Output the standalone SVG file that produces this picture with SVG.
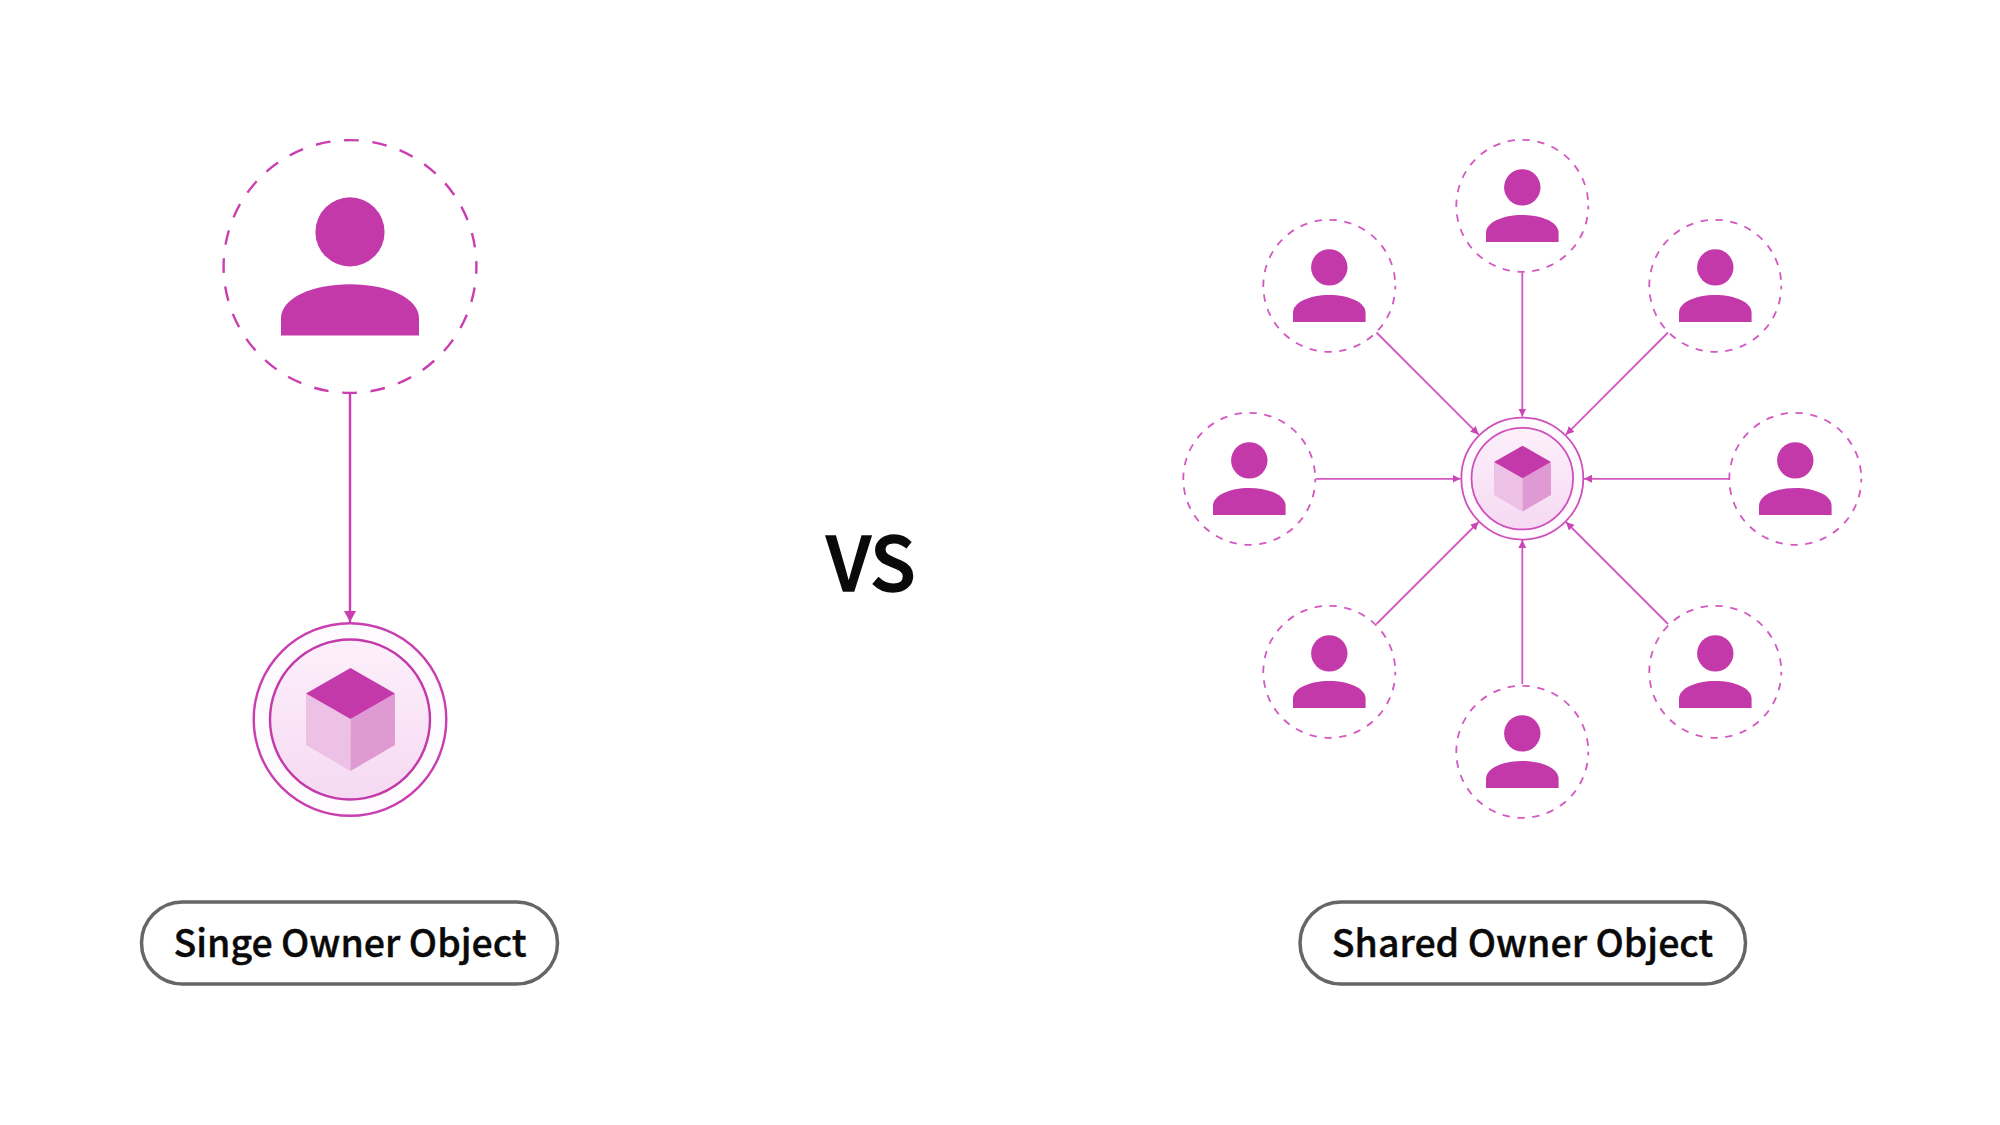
<svg xmlns="http://www.w3.org/2000/svg" width="2000" height="1125" viewBox="0 0 2000 1125">
<style>
.label{font-family:"Noto Sans CJK KR","Noto Sans",sans-serif;font-weight:500;fill:#0a0a0a;stroke:#0a0a0a;stroke-width:.4;text-anchor:middle}
.pill{fill:#fff;stroke:#666;stroke-width:3.5}
.ico{fill:#c339a9}
.big{fill:none;stroke:#c93fb0;stroke-width:2.4;stroke-dasharray:14.7 13.72;stroke-dashoffset:7.35}
.small{fill:none;stroke:#d358c2;stroke-width:1.8;stroke-dasharray:7.4 7.57;stroke-dashoffset:3.7}
.conn1{stroke:#c93fb0;stroke-width:2.4;fill:none;marker-end:url(#a1)}
.conn2{stroke:#d358c2;stroke-width:1.8;fill:none;marker-end:url(#a2)}
</style>
<defs>
<marker id="a1" viewBox="0 0 11 12" refX="11" refY="6" markerUnits="userSpaceOnUse" markerWidth="11" markerHeight="12" orient="auto"><path d="M0 0L11 6L0 12Z" fill="#c93fb0"/></marker>
<marker id="a2" viewBox="0 0 8 8" refX="8" refY="4" markerUnits="userSpaceOnUse" markerWidth="8" markerHeight="8" orient="auto"><path d="M0 0L8 4L0 8Z" fill="#cb45b6"/></marker>
<linearGradient id="g" x1="0" y1="0" x2="0" y2="1"><stop offset="0" stop-color="#fcf0fb"/><stop offset="1" stop-color="#f6d9f2"/></linearGradient>
<g id="person"><circle cx="0" cy="-34.4" r="34.6"/><path d="M-69 69.3V52C-69 32 -38 18 0 18S69 32 69 52V69.3Z"/></g>
<g id="cube">
<path d="M0 0V52L-44.5 26V-25.5Z" fill="#edc1e5"/>
<path d="M0 0V52L44.5 26V-25.5Z" fill="#e09ad3"/>
<path d="M0 -51L44.5 -25.5L0 0L-44.5 -25.5Z" fill="#c339a9"/>
</g>
</defs>
<rect width="2000" height="1125" fill="#fff"/>
<g id="connectors">
<line class="conn1" x1="350" y1="393" x2="350" y2="622"/>
<line class="conn2" x1="1522.3" y1="272.4" x2="1522.3" y2="416.5"/>
<line class="conn2" x1="1522.3" y1="684" x2="1522.3" y2="540"/>
<line class="conn2" x1="1316" y1="478.8" x2="1460.5" y2="478.8"/>
<line class="conn2" x1="1729" y1="478.8" x2="1584" y2="478.8"/>
<line class="conn2" x1="1376.5" y1="332.5" x2="1478.6" y2="434.6"/>
<line class="conn2" x1="1668" y1="332.5" x2="1566" y2="434.6"/>
<line class="conn2" x1="1376.5" y1="624" x2="1478.6" y2="522"/>
<line class="conn2" x1="1668" y1="624" x2="1566" y2="522"/>
</g>
<g id="owner-single"><circle class="big" cx="350" cy="266.5" r="126.4"/><use href="#person" class="ico" transform="translate(350 266.3)"/></g>
<g id="object-single"><circle cx="350" cy="719.5" r="96.3" fill="#fefbfe" stroke="#c93fb0" stroke-width="2.4"/><circle cx="350" cy="719.5" r="80" fill="url(#g)" stroke="#c339a9" stroke-width="2.4"/><use href="#cube" transform="translate(350.5 719)"/></g>
<g id="owner-n"><circle class="small" cx="1522.3" cy="205.8" r="66"/><use href="#person" class="ico" transform="translate(1522.3 205.5) scale(.526)"/></g>
<g id="owner-ne"><circle class="small" cx="1715.3" cy="285.8" r="66"/><use href="#person" class="ico" transform="translate(1715.3 285.5) scale(.526)"/></g>
<g id="owner-e"><circle class="small" cx="1795.3" cy="478.8" r="66"/><use href="#person" class="ico" transform="translate(1795.3 478.5) scale(.526)"/></g>
<g id="owner-se"><circle class="small" cx="1715.3" cy="671.8" r="66"/><use href="#person" class="ico" transform="translate(1715.3 671.5) scale(.526)"/></g>
<g id="owner-s"><circle class="small" cx="1522.3" cy="751.8" r="66"/><use href="#person" class="ico" transform="translate(1522.3 751.5) scale(.526)"/></g>
<g id="owner-sw"><circle class="small" cx="1329.3" cy="671.8" r="66"/><use href="#person" class="ico" transform="translate(1329.3 671.5) scale(.526)"/></g>
<g id="owner-w"><circle class="small" cx="1249.3" cy="478.8" r="66"/><use href="#person" class="ico" transform="translate(1249.3 478.5) scale(.526)"/></g>
<g id="owner-nw"><circle class="small" cx="1329.3" cy="285.8" r="66"/><use href="#person" class="ico" transform="translate(1329.3 285.5) scale(.526)"/></g>
<g id="object-shared"><circle cx="1522.3" cy="478.6" r="61" fill="#fefbfe" stroke="#d050bb" stroke-width="1.8"/><circle cx="1522.3" cy="478.6" r="50.8" fill="url(#g)" stroke="#d050bb" stroke-width="1.8"/><use href="#cube" transform="translate(1522.5 478.3) scale(.64)"/></g>
<g id="vs"><text class="label" x="871" y="591" font-size="75" style="stroke-width:1.6">VS</text></g>
<g id="label-single"><rect class="pill" x="141.5" y="902" width="416" height="82" rx="41"/><text class="label" x="350" y="957" font-size="37.5">Singe Owner Object</text></g>
<g id="label-shared"><rect class="pill" x="1300" y="902" width="445.5" height="82" rx="41"/><text class="label" x="1522.5" y="957" font-size="37.5">Shared Owner Object</text></g>
</svg>
